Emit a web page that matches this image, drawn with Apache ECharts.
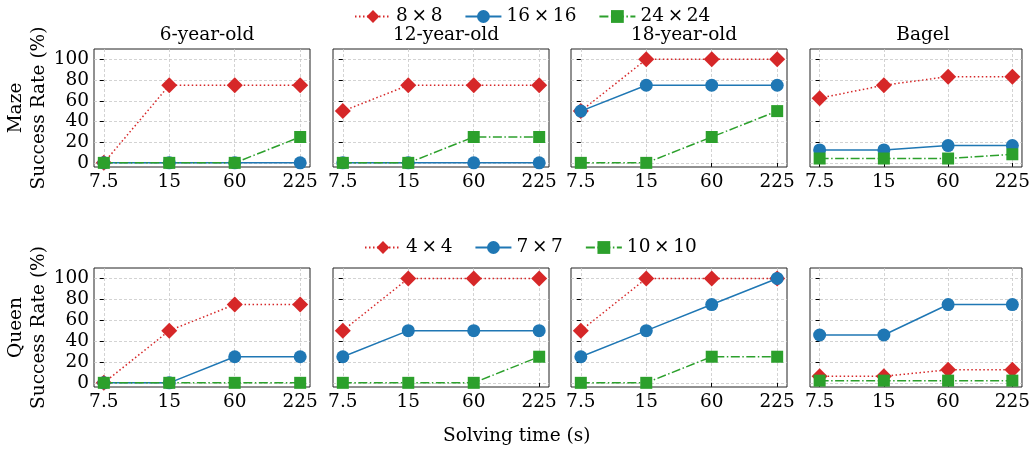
<!DOCTYPE html>
<html><head><meta charset="utf-8">
<script src="https://cdn.jsdelivr.net/npm/echarts@6/dist/echarts.min.js"></script>
<style>html,body{margin:0;padding:0;background:#fff}#c{width:1033px;height:450px}</style>
</head><body><div id="c"></div>
<script>
const panelTitles = ['6-year-old', '12-year-old', '18-year-old', 'Bagel'];
const timeLabels = ['7.5', '15', '60', '225'];
const yTicks = [0, 20, 40, 60, 80, 100];
const mazeNames = ['8\u2009×\u20098', '16\u2009×\u200916', '24\u2009×\u200924'];
const queenNames = ['4\u2009×\u20094', '7\u2009×\u20097', '10\u2009×\u200910'];
const rowLabels = ['Maze\nSuccess Rate (%)', 'Queen\nSuccess Rate (%)'];
const xTitle = 'Solving time (s)';

// Maze values, one array per panel (6yo, 12yo, 18yo, Bagel)
const maze8x8 = [[0, 75, 75, 75], [50, 75, 75, 75], [50, 100, 100, 100], [62.5, 75, 83.3, 83.3]];
const maze16x16 = [[0, 0, 0, 0], [0, 0, 0, 0], [50, 75, 75, 75], [12.5, 12.5, 16.7, 16.7]];
const maze24x24 = [[0, 0, 0, 25], [0, 0, 25, 25], [0, 0, 25, 50], [4.2, 4.2, 4.2, 8.3]];
// Queen values
const queen4x4 = [[0, 50, 75, 75], [50, 100, 100, 100], [50, 100, 100, 100], [6.25, 6.25, 12.5, 12.5]];
const queen7x7 = [[0, 0, 25, 25], [25, 50, 50, 50], [25, 50, 75, 100], [45.8, 45.8, 75, 75]];
const queen10x10 = [[0, 0, 0, 0], [0, 0, 0, 25], [0, 0, 25, 25], [2.1, 2.1, 2.1, 2.1]];

const FONT = 'DejaVu Serif';
const FS = 18.5;
const lefts = [94, 333, 571, 810];
const pw = 216;
const rows = [{top: 49, h: 118}, {top: 268, h: 119}];
const styles = [
  {color: '#d62728', symbol: 'diamond', size: 16, type: [1.5, 2.5]},
  {color: '#1f77b4', symbol: 'circle', size: 13, type: 'solid'},
  {color: '#2ca02c', symbol: 'rect', size: 12, type: [9, 2.5, 1.5, 2.5]}
];
const rowData = [[maze8x8, maze16x16, maze24x24], [queen4x4, queen7x7, queen10x10]];
const rowNames = [mazeNames, queenNames];

const grid = [], xAxis = [], yAxis = [], series = [], title = [];
let gi = 0;
rows.forEach((r, ri) => {
  lefts.forEach((l, pi) => {
    grid.push({left: l, top: r.top, width: pw, height: r.h, show: true,
      borderColor: '#222', borderWidth: 1, backgroundColor: 'transparent'});
    xAxis.push({type: 'value', gridIndex: gi, min: -0.15, max: 3.15,
      axisLine: {show: false},
      axisTick: {show: true, customValues: [0, 1, 2, 3], length: 4, lineStyle: {color: '#000'}},
      axisLabel: {show: true, customValues: [0, 1, 2, 3], formatter: v => timeLabels[v],
        fontFamily: FONT, fontSize: FS, color: '#000', margin: 6},
      splitLine: {show: true, lineStyle: {color: '#c8c8c8', type: [3, 2], width: 0.8}}
    });
    yAxis.push({type: 'value', gridIndex: gi, min: -4, max: 110,
      axisLine: {show: false},
      axisTick: {show: true, customValues: yTicks, length: 4, lineStyle: {color: '#000'}},
      axisLabel: {show: pi === 0, customValues: yTicks, fontFamily: FONT, fontSize: FS, color: '#000', margin: 5},
      splitLine: {show: true, lineStyle: {color: '#c8c8c8', type: [3, 2], width: 0.8}}
    });
    if (ri === 0) {
      title.push({text: panelTitles[pi], left: l + pw / 2, top: 21, textAlign: 'center',
        textStyle: {fontFamily: FONT, fontSize: FS, fontWeight: 'normal', color: '#000'}});
    }
    rowData[ri].forEach((arr, si) => {
      const st = styles[si];
      series.push({type: 'line', name: rowNames[ri][si], xAxisIndex: gi, yAxisIndex: gi,
        data: arr[pi].map((v, i) => [i, v]),
        symbol: st.symbol, symbolSize: st.size, showSymbol: true,
        itemStyle: {color: st.color}, lineStyle: {color: st.color, width: 1.5, type: st.type},
        animation: false, z: 2 + si});
    });
    gi++;
  });
});

const graphic = [
  {type: 'text', left: 443, top: 427, style: {text: xTitle, font: FS + 'px "DejaVu Serif"', fill: '#000'}}
];
rows.forEach((r, ri) => {
  graphic.push({type: 'text', x: 28, y: r.top + r.h / 2, rotation: Math.PI / 2,
    style: {text: rowLabels[ri], font: FS + 'px "DejaVu Serif"', fill: '#000', align: 'center',
      verticalAlign: 'middle', lineHeight: 23}});
});

const legendCommon = {itemWidth: 36, itemHeight: 16, itemGap: 22,
  textStyle: {fontFamily: FONT, fontSize: FS, color: '#000'}};
const legend = [
  Object.assign({data: mazeNames, top: 2, left: 349}, legendCommon),
  Object.assign({data: queenNames, top: 233, left: 359}, legendCommon)
];

const chart = echarts.init(document.getElementById('c'), null, {renderer: 'canvas'});
chart.setOption({animation: false, backgroundColor: '#fff', title, grid, xAxis, yAxis, series, legend, graphic});
</script></body></html>
